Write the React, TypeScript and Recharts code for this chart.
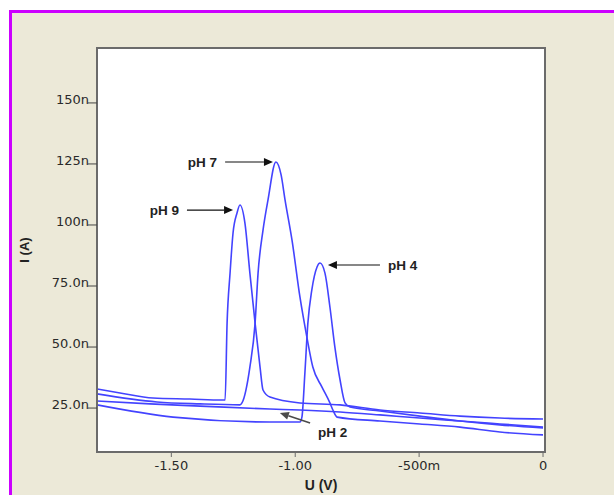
import { LineChart, Line, XAxis, YAxis, CartesianGrid, ReferenceArea, ReferenceLine, Label } from "recharts";

// tick values and the labels the instrument software prints for them
const potentialTicks = [-1.5, -1.0, -0.5, 0];
const potentialTickLabels = ["-1.50", "-1.00", "-500m", "0"];
const currentTicks = [25, 50, 75, 100, 125, 150];
const currentTickLabels = ["25.0n", "50.0n", "75.0n", "100n", "125n", "150n"];

// scans, U in V and I in nA
const ph9U = [-1.8, -1.707, -1.574, -1.425, -1.296, -1.283, -1.275, -1.263, -1.251, -1.235, -1.223, -1.203, -1.183, -1.162, -1.142, -1.13, -1.102, -0.981, -0.819, -0.658, -0.497, -0.335, -0.174, 0];
const ph9I = [32.8, 31.2, 29.1, 28.7, 28.3, 28.3, 59.8, 80.3, 96.7, 104.9, 108.2, 100.8, 80.3, 59.8, 41.8, 32.4, 29.5, 27.1, 26.3, 24.2, 23.0, 21.7, 20.9, 20.5];

const ph7U = [-1.8, -1.558, -1.384, -1.223, -1.215, -1.183, -1.162, -1.15, -1.13, -1.11, -1.078, -1.057, -1.041, -1.013, -0.981, -0.953, -0.929, -0.892, -0.86, -0.848, -0.831, -0.658, -0.497, -0.335, -0.174, 0];
const ph7I = [30.8, 27.5, 26.7, 26.3, 27.1, 41.8, 59.8, 80.3, 97.9, 110.2, 125.8, 120.5, 110.2, 93.8, 70.5, 54.1, 41.8, 33.6, 27.1, 24.2, 21.3, 19.7, 18.5, 17.2, 15.2, 14.0];

const ph4U = [-1.8, -1.493, -1.102, -0.981, -0.973, -0.961, -0.949, -0.933, -0.912, -0.9, -0.88, -0.86, -0.84, -0.819, -0.799, -0.779, -0.658, -0.497, -0.335, -0.174, 0];
const ph4I = [26.3, 21.3, 19.3, 19.3, 21.3, 39.4, 59.8, 73.4, 82.8, 84.4, 80.3, 66.4, 50.0, 36.5, 27.1, 25.4, 23.8, 21.7, 19.7, 18.1, 16.8];

const ph2U = [-1.8, -1.586, -1.384, -1.102, -0.981, -0.819, -0.658, -0.497, -0.335, -0.174, 0];
const ph2I = [27.9, 26.7, 25.8, 24.6, 24.2, 23.4, 22.2, 20.9, 19.7, 18.5, 17.2];

const toPoints = (u: number[], i: number[]) => u.map((v, k) => ({ u: v, i: i[k] }));

const scans = [
  { name: "pH 9", data: toPoints(ph9U, ph9I) },
  { name: "pH 7", data: toPoints(ph7U, ph7I) },
  { name: "pH 4", data: toPoints(ph4U, ph4I) },
  { name: "pH 2", data: toPoints(ph2U, ph2I) },
];

// arrow callouts: tail -> head, in data units
const callouts = [
  { label: "pH 9", from: { x: -1.437, y: 106.1 }, to: { x: -1.251, y: 106.1 }, side: "left", color: "#111" },
  { label: "pH 7", from: { x: -1.283, y: 125.8 }, to: { x: -1.09, y: 125.8 }, side: "left", color: "#111" },
  { label: "pH 4", from: { x: -0.658, y: 83.6 }, to: { x: -0.868, y: 83.6 }, side: "right", color: "#111" },
  { label: "pH 2", from: { x: -0.94, y: 18.9 }, to: { x: -1.062, y: 23.0 }, side: "below", color: "#4a4a4a" },
];

const BLUE = "#4343ff";
const FRAME = "#6b6b6b";
const tickFont = "'DejaVu Sans', sans-serif";
const boldFont = "'Liberation Sans', Arial, sans-serif";

const YTick = (props: any) => {
  const { x, y, payload } = props;
  const idx = currentTicks.indexOf(payload.value);
  return (
    <text x={x + 1} y={y + 1} textAnchor="end" fontFamily={tickFont} fontSize={13} fill="#2a2a2a">
      {idx >= 0 ? currentTickLabels[idx] : payload.value}
    </text>
  );
};

const XTick = (props: any) => {
  const { x, y, payload } = props;
  const idx = potentialTicks.indexOf(payload.value);
  return (
    <text x={x} y={y} dy="0.72em" textAnchor="middle" fontFamily={tickFont} fontSize={13} fill="#2a2a2a">
      {idx >= 0 ? potentialTickLabels[idx] : payload.value}
    </text>
  );
};

const arrowShape = (c: (typeof callouts)[number]) => (props: any) => {
  const { x1, y1, x2, y2 } = props;
  if (x1 == null || x2 == null) return <g />;
  const ang = Math.atan2(y2 - y1, x2 - x1);
  const len = 9;
  const half = 4;
  const bx = x2 - len * Math.cos(ang);
  const by = y2 - len * Math.sin(ang);
  const px = -Math.sin(ang) * half;
  const py = Math.cos(ang) * half;
  let tx = x1 - 8;
  let ty = y1 + 5;
  let anchor = "end";
  if (c.side === "right") {
    tx = x1 + 8;
    anchor = "start";
  } else if (c.side === "below") {
    tx = x1 + 8;
    ty = y1 + 14;
    anchor = "start";
  }
  return (
    <g>
      <line x1={x1} y1={y1} x2={bx} y2={by} stroke={c.color} strokeWidth={c.side === "below" ? 1.6 : 1.2} />
      <polygon points={`${x2},${y2} ${bx + px},${by + py} ${bx - px},${by - py}`} fill={c.color} />
      <text x={tx} y={ty} textAnchor={anchor} fontFamily={boldFont} fontWeight="bold" fontSize={13.5} fill="#222">
        {c.label}
      </text>
    </g>
  );
};

const YTitle = (props: any) => {
  const vb = props.viewBox && props.viewBox.height ? props.viewBox : { x: 96, y: 48, height: 404 };
  const cx = vb.x - 72;
  const cy = vb.y + vb.height / 2;
  return (
    <text x={cx} y={cy} transform={`rotate(-90 ${cx} ${cy})`} textAnchor="middle" dominantBaseline="central"
      fontFamily={boldFont} fontWeight="bold" fontSize={13} fill="#222">
      I (A)
    </text>
  );
};

export default function App() {
  return (
    <div style={{ position: "absolute", left: 0, top: 0, width: 614, height: 495, background: "#fff", overflow: "hidden" }}>
      <div
        style={{
          position: "absolute",
          left: 9,
          top: 10,
          right: 0,
          bottom: 0,
          borderLeft: "3px solid #cc00ff",
          borderTop: "3px solid #cc00ff",
          background: "#ece9d8",
        }}
      />
      <div style={{ position: "absolute", left: 0, top: 0 }}>
        <LineChart width={614} height={495} margin={{ top: 48, right: 69, bottom: 42, left: 96 }}>
          <CartesianGrid horizontal={false} vertical={false} fill="#fff" fillOpacity={1} />
          <XAxis
            type="number"
            dataKey="u"
            domain={[-1.8, 0.008]}
            allowDataOverflow
            ticks={potentialTicks}
            height={1}
            tickSize={5}
            tickMargin={4}
            axisLine={{ stroke: FRAME, strokeWidth: 2 }}
            tickLine={{ stroke: FRAME }}
            tick={<XTick />}
          >
            <Label value="U (V)" position="bottom" offset={27}
              style={{ fontFamily: boldFont, fontWeight: "bold", fontSize: 14, fill: "#222" }} />
          </XAxis>
          <YAxis
            type="number"
            domain={[7, 172.5]}
            allowDataOverflow
            ticks={currentTicks}
            width={1}
            tickSize={9}
            tickMargin={0}
            axisLine={{ stroke: FRAME, strokeWidth: 2 }}
            tickLine={{ stroke: "#444" }}
            tick={<YTick />}
          >
            <Label content={<YTitle />} />
          </YAxis>
          <ReferenceArea x1={-1.8} x2={0.008} y1={7} y2={172.5} fill="none" stroke={FRAME} strokeWidth={2} ifOverflow="visible" />
          {scans.map((s) => (
            <Line
              key={s.name}
              name={s.name}
              data={s.data}
              dataKey="i"
              type="monotone"
              stroke={BLUE}
              strokeWidth={1.6}
              dot={false}
              activeDot={false}
              isAnimationActive={false}
            />
          ))}
          {callouts.map((c) => (
            <ReferenceLine key={c.label} segment={[c.from, c.to]} ifOverflow="visible" shape={arrowShape(c)} />
          ))}
        </LineChart>
      </div>
    </div>
  );
}
